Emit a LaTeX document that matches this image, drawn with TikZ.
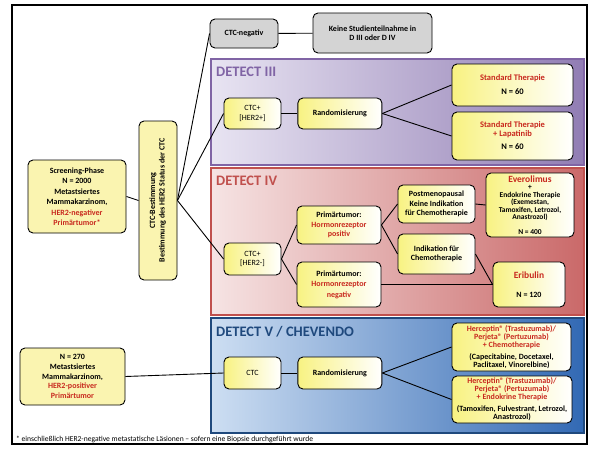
\documentclass[tikz,border=0pt]{standalone}
\usepackage{fontspec}
\setmainfont{Carlito}
\usetikzlibrary{positioning}
\definecolor{txtred}{RGB}{200,40,30}
\definecolor{boxyel}{RGB}{248,242,130}
\definecolor{paleyel}{RGB}{250,244,176}
\definecolor{boxgray}{RGB}{212,212,212}
\definecolor{pthreeL}{RGB}{232,228,242}
\definecolor{pthreeR}{RGB}{145,125,180}
\definecolor{pthreeline}{RGB}{128,100,165}
\definecolor{pfourL}{RGB}{246,228,228}
\definecolor{pfourR}{RGB}{202,105,105}
\definecolor{pfourline}{RGB}{192,80,77}
\definecolor{pfiveL}{RGB}{205,222,242}
\definecolor{pfiveR}{RGB}{50,105,180}
\definecolor{pfiveline}{RGB}{31,73,125}
\newcommand{\redtxt}[1]{\textcolor{txtred}{#1}}

\begin{document}
\begin{tikzpicture}[
    x=1pt, y=-1pt,
    rbox/.style={draw, rounded corners=5pt, line width=0.9pt, align=center, inner sep=1pt, font=\bfseries\fontsize{8}{9.5}\selectfont},
    gbox/.style={rbox, left color=boxyel, right color=white},
    pbox/.style={rbox, fill=paleyel},
    greybox/.style={rbox, fill=boxgray},
    thin/.style={font=\fontsize{8}{9.5}\selectfont},
    panel/.style={line width=1.6pt},
    ptitle/.style={anchor=base west, inner sep=0pt, font=\bfseries\fontsize{14.5}{14.5}\selectfont},
    lnk/.style={line width=0.9pt}
]
\useasboundingbox (0,0) rectangle (600,450);
\draw[line width=1.6pt] (12,5) rectangle (587,444);
\draw[panel, draw=pthreeline, left color=pthreeL, right color=pthreeR] (211,59) rectangle (584,165);
\draw[panel, draw=pfourline, left color=pfourL, right color=pfourR] (211,168) rectangle (584,315);
\draw[panel, draw=pfiveline, left color=pfiveL, right color=pfiveR] (211,318) rectangle (584,433);
\node[ptitle, text=pthreeline] (t3) at (216,76) {DETECT III};
\node[ptitle, text=pfourline] (t4) at (216,185) {DETECT IV};
\node[ptitle, text=pfiveline] (t5) at (216,336) {DETECT V / CHEVENDO};

\node[greybox, minimum width=68pt, minimum height=29pt] (ctcneg) at (244,33.5) {CTC-negativ};
\node[greybox, minimum width=119pt, minimum height=40pt] (keine) at (372.5,33) {Keine Studienteilnahme in\\D III oder D IV};
\node[pbox, minimum width=98pt, minimum height=73pt, font=\bfseries\fontsize{8}{10.5}\selectfont] (screen) at (77,196.5) {Screening-Phase\\N = 2000\\Metastsiertes\\Mammakarzinom,\\\redtxt{HER2-negativer}\\\redtxt{Primärtumor*}};
\node[pbox, minimum width=38pt, minimum height=159pt] (bar) at (158,200.5) {\rotatebox{90}{\begin{tabular}{@{}c@{}}CTC-Bestimmung\\Bestimmung des HER2 Status der CTC\end{tabular}}};
\node[pbox, minimum width=105pt, minimum height=57pt, font=\bfseries\fontsize{8}{9.8}\selectfont] (her2pos) at (72.5,376.5) {N = 270\\Metastsiertes\\Mammakarzinom,\\\redtxt{HER2-positiver}\\\redtxt{Primärtumor}};

\node[gbox, thin, minimum width=57pt, minimum height=31pt] (ctc3) at (252.5,113.5) {CTC+\\{[HER2+]}};
\node[gbox, minimum width=84pt, minimum height=31pt, right=16pt of ctc3] (rand3) {Randomisierung};
\node[gbox, minimum width=121pt, minimum height=42pt, font=\bfseries\fontsize{8.5}{9}\selectfont] (std1) at (512.5,85) {\redtxt{Standard Therapie}\\[5pt]N = 60};
\node[gbox, minimum width=121pt, minimum height=48pt, font=\bfseries\fontsize{8.5}{8.5}\selectfont] (std2) at (512.5,136) {\redtxt{Standard Therapie}\\\redtxt{+ Lapatinib}\\[5pt]N = 60};

\node[gbox, thin, minimum width=57pt, minimum height=32pt] (ctc4) at (252.5,259) {CTC+\\{[HER2-]}};
\node[gbox, minimum width=84pt, minimum height=38pt] (ppos) at (339,225) {Primärtumor:\\\redtxt{Hormonrezeptor}\\\redtxt{positiv}};
\node[gbox, minimum width=84pt, minimum height=45pt, font=\bfseries\fontsize{8}{10.5}\selectfont] (pneg) at (339,284.5) {Primärtumor:\\\redtxt{Hormonrezeptor}\\\redtxt{negativ}};
\node[gbox, minimum width=77pt, minimum height=38pt] (postm) at (436.5,204) {Postmenopausal\\Keine Indikation\\für Chemotherapie};
\node[gbox, minimum width=77pt, minimum height=40pt] (indik) at (436.5,254) {Indikation für\\Chemotherapie};
\node[gbox, minimum width=88pt, minimum height=64pt, font=\bfseries\fontsize{7.5}{7.5}\selectfont] (evero) at (530,205) {\redtxt{\fontsize{9.5}{9}\selectfont Everolimus}\\+\\Endokrine Therapie\\(Exemestan,\\Tamoxifen, Letrozol,\\Anastrozol)\\[7pt]N = 400};
\node[gbox, minimum width=72pt, minimum height=45pt] (erib) at (529,284.5) {\redtxt{\fontsize{9.5}{9}\selectfont Eribulin}\\[9pt]N = 120};

\node[gbox, thin, minimum width=57pt, minimum height=32pt] (ctc5) at (252.5,373) {CTC};
\node[gbox, minimum width=84pt, minimum height=32pt, right=16pt of ctc5] (rand5) {Randomisierung};
\node[gbox, minimum width=119pt, minimum height=48pt, font=\bfseries\fontsize{8}{8}\selectfont] (herc1) at (511.5,347) {\redtxt{Herceptin® (Trastuzumab)/}\\\redtxt{Perjeta® (Pertuzumab)}\\\redtxt{+ Chemotherapie}\\[4pt](Capecitabine, Docetaxel,\\Paclitaxel, Vinorelbine)};
\node[gbox, minimum width=120pt, minimum height=47pt, font=\bfseries\fontsize{8}{8}\selectfont] (herc2) at (512,399.5) {\redtxt{Herceptin® (Trastuzumab)/}\\\redtxt{Perjeta® (Pertuzumab)}\\\redtxt{+ Endokrine Therapie}\\[4pt](Tamoxifen, Fulvestrant, Letrozol,\\Anastrozol)};

\node[anchor=base west, inner sep=0pt, font=\fontsize{7.6}{8}\selectfont] (fnote) at (16,441) {* einschließlich HER2-negative metastatische Läsionen – sofern eine Biopsie durchgeführt wurde};

\draw[lnk] (screen.east) -- (bar.west);
\draw[lnk] (bar.east) -- (ctcneg.west);
\draw[lnk] (bar.east) -- (ctc3.west);
\draw[lnk] (bar.east) -- (ctc4.west);
\draw[lnk] (ctcneg) -- (keine);
\draw[lnk] (ctc3) -- (rand3);
\draw[lnk] (rand3.east) -- (std1.west);
\draw[lnk] (rand3.east) -- (std2.west);
\draw[lnk] (ctc4.east) -- (ppos.west);
\draw[lnk] (ctc4.east) -- (pneg.west);
\draw[lnk] (ppos.east) -- (postm.west);
\draw[lnk] (ppos.east) -- (indik.west);
\draw[lnk] (postm.east) -- (evero.west);
\draw[lnk] (indik.east) -- (erib.west);
\draw[lnk] (pneg.east) -- (erib.west);
\draw[lnk] (her2pos.east) -- (ctc5.west);
\draw[lnk] (ctc5) -- (rand5);
\draw[lnk] (rand5.east) -- (herc1.west);
\draw[lnk] (rand5.east) -- (herc2.west);
\end{tikzpicture}
\end{document}
